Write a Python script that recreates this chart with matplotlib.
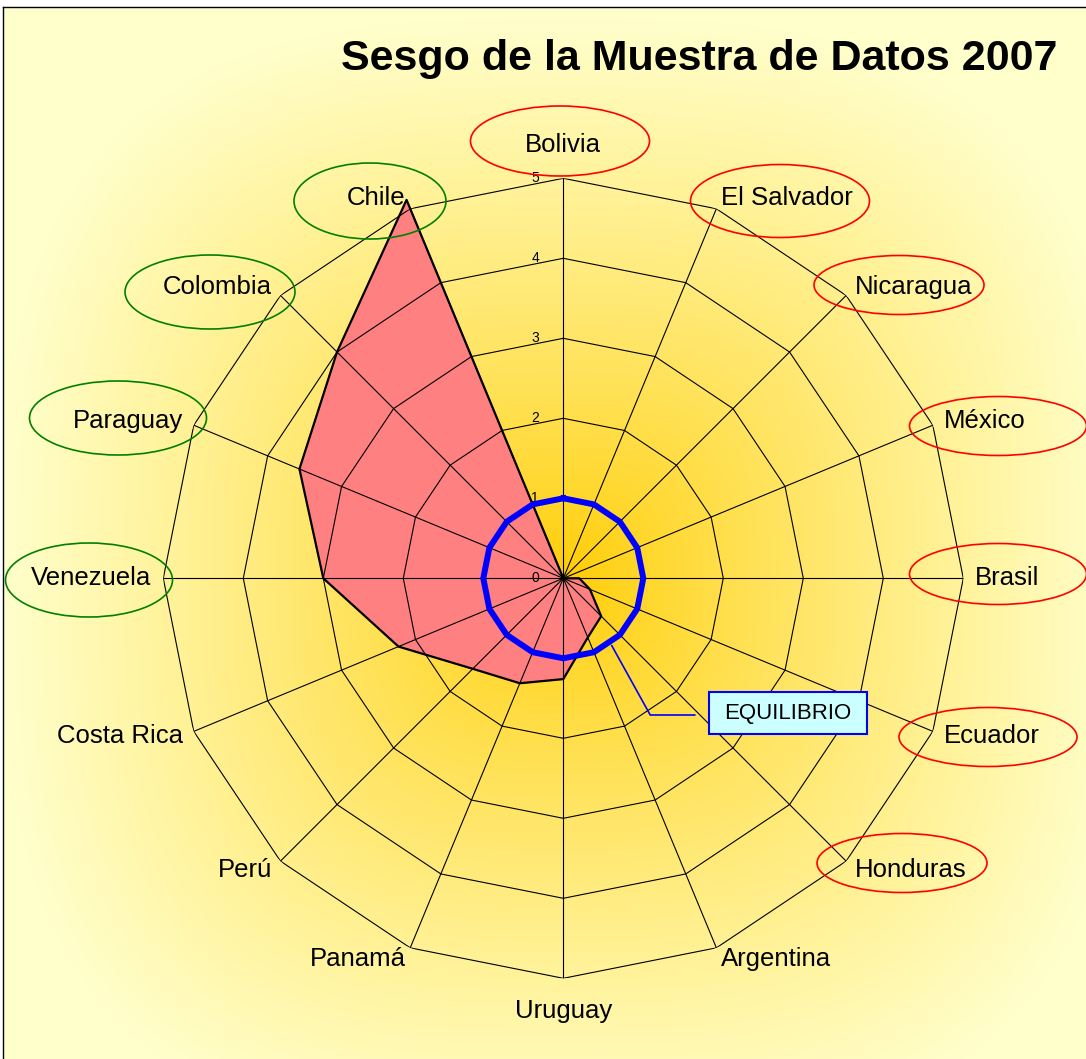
## radar chart - Sesgo de la Muestra de Datos 2007

import numpy as np
import matplotlib
matplotlib.use('Agg')
import matplotlib.pyplot as plt
from matplotlib.patches import Ellipse, Rectangle

plt.rcParams['font.family'] = ['Liberation Sans', 'DejaVu Sans']

##data (clockwise from the top)

paises = ['Bolivia', 'El Salvador', 'Nicaragua', 'México', 'Brasil', 'Ecuador', 'Honduras',
          'Argentina', 'Uruguay', 'Panamá', 'Perú', 'Costa Rica', 'Venezuela', 'Paraguay',
          'Colombia', 'Chile']
sesgo = [0, 0, 0, 0, 0.2, 0.36, 0.67, 0.8, 1.26, 1.42, 1.6, 2.23, 3.0, 3.57, 4.0, 5.12]
equilibrio = [1] * 16
escala = [0, 1, 2, 3, 4, 5]

## ellipses drawn around some labels (pixel layout: cx, cy, w, h)
elipses_rojas = {
    'Bolivia': (560, 141, 179, 70),
    'El Salvador': (780, 201, 179, 73),
    'Nicaragua': (899, 285, 170, 59),
    'México': (998, 426, 177, 59),
    'Brasil': (998, 574, 177, 61),
    'Ecuador': (988, 737, 178, 59),
    'Honduras': (902, 863, 170, 59),
}
elipses_verdes = {
    'Chile': (370, 201, 152, 76),
    'Colombia': (210, 292, 170, 74),
    'Paraguay': (118, 418, 177, 74),
    'Venezuela': (89, 580, 167, 74),
}

W, H = 1086, 1059
cx, cy = 563.3, 578.3
R = 400

fig = plt.figure(figsize=(W / 100, H / 100), dpi=100)

##background gradient

bg = fig.add_axes([0, 0, 1, 1])
bg.set_xlim(0, W)
bg.set_ylim(H, 0)
bg.axis('off')

yy, xx = np.mgrid[0:H, 0:W] + 0.5
dx = np.abs(xx - cx) / 560
dy = np.abs(yy - cy) / 560
t = np.clip((dx ** 3 + dy ** 3) ** (1 / 3), 0, 1) ** 0.8
inner = np.array([255, 204, 0]) / 255
outer = np.array([255, 255, 204]) / 255
img = inner + (outer - inner) * t[..., None]
bg.imshow(img, extent=(0, W, H, 0), aspect='auto', interpolation='bilinear')

bg.add_patch(Rectangle((0, 0), W, 7, color='white'))
bg.add_patch(Rectangle((0, 0), 3, H, color='white'))
bg.plot([3, 3], [7, H], color='black', lw=1)
bg.plot([3, W], [7, 7], color='black', lw=1)

##radar

ax = fig.add_axes([(cx - R) / W, (H - cy - R) / H, 2 * R / W, 2 * R / H], projection='polar')
ax.set_theta_zero_location('N')
ax.set_theta_direction(-1)
ax.set_ylim(0, 5)
ax.set_axis_off()

ang = np.arange(len(paises)) * 2 * np.pi / len(paises)
ang_c = np.append(ang, ang[0])

ax.fill(ang_c, sesgo + [sesgo[0]], color='#FF8080', zorder=2, clip_on=False)

for r in escala[1:]:
    ax.plot(ang_c, [r] * len(ang_c), color='black', lw=0.8, zorder=3)
for a in ang:
    ax.plot([a, a], [0, 5], color='black', lw=0.8, zorder=3)

ax.plot(ang_c, sesgo + [sesgo[0]], color='black', lw=1.6, zorder=4, clip_on=False)
ax.plot(ang_c, equilibrio + [equilibrio[0]], color='#0000FF', lw=4.3, zorder=5)

for a, nombre in zip(ang, paises):
    s, c = np.sin(a), np.cos(a)
    if abs(s) < 0.1:
        d = 33
        ha = 'center'
    else:
        d = 12
        ha = 'left' if s > 0 else 'right'
    ax.annotate(nombre, xy=(a, 5), xytext=(d * s * 0.72, d * c * 0.72),
                textcoords='offset points', ha=ha, va='center', fontsize=18.5,
                annotation_clip=False)

for r in escala:
    ax.annotate(str(r), xy=(0, r), xytext=(-17.5, 0), textcoords='offset points',
                ha='right', va='center', fontsize=10)

##overlay: title, ellipses, equilibrio box

top = fig.add_axes([0, 0, 1, 1], zorder=5)
top.set_xlim(0, W)
top.set_ylim(H, 0)
top.axis('off')

top.text(1057, 70, 'Sesgo de la Muestra de Datos 2007', ha='right', va='baseline',
         fontsize=31, fontweight='bold')

for nombre, (ex, ey, ew, eh) in elipses_rojas.items():
    top.add_patch(Ellipse((ex, ey), ew, eh, fill=False, ec='#FF0000', lw=1.2))
for nombre, (ex, ey, ew, eh) in elipses_verdes.items():
    top.add_patch(Ellipse((ex, ey), ew, eh, fill=False, ec='#008000', lw=1.2))

top.add_patch(Rectangle((709, 692), 158, 42, fc='#CCFFFF', ec='#0000FF', lw=1.5))
top.text(788, 714, 'EQUILIBRIO', ha='center', va='center', fontsize=16)

top.annotate('', xy=(np.deg2rad(144), equilibrio[0]), xycoords=ax.transData,
             xytext=(695, 715), textcoords='data',
             arrowprops=dict(arrowstyle='-', color='#0000FF', lw=1.2,
                             connectionstyle='angle,angleA=0,angleB=119,rad=0',
                             shrinkA=0, shrinkB=2))

fig.savefig('out.png', dpi=100)
